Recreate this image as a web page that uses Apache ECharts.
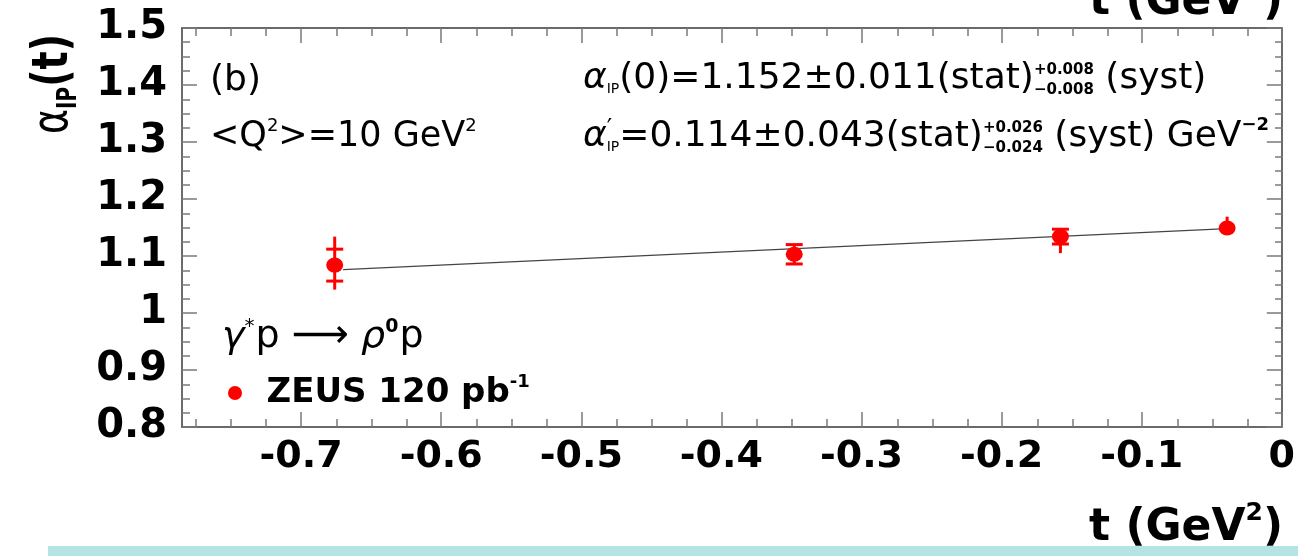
<!DOCTYPE html>
<html>
<head>
<meta charset="utf-8">
<script src="https://cdn.jsdelivr.net/npm/echarts@6/dist/echarts.min.js"></script>
<style>
  html, body { margin: 0; padding: 0; background: #ffffff; }
  #chart { width: 1298px; height: 556px; }
</style>
</head>
<body>
<div id="chart"></div>
<script>
// Pomeron trajectory alpha_IP(t) from exclusive rho0 electroproduction
const tValues      = [-0.676, -0.348, -0.158, -0.039];
const alphaValues  = [1.084, 1.103, 1.134, 1.149];
const statErrUp    = [0.028, 0.017, 0.013, 0.000];
const statErrDown  = [0.028, 0.017, 0.013, 0.000];
const totalErrUp   = [0.050, 0.017, 0.013, 0.020];
const totalErrDown = [0.043, 0.017, 0.029, 0.012];

// linear trajectory fit, end points
const fitT     = [-0.670, -0.039];
const fitAlpha = [1.076, 1.148];

const xTickValues = [-0.7, -0.6, -0.5, -0.4, -0.3, -0.2, -0.1, 0];
const yTickValues = [0.8, 0.9, 1, 1.1, 1.2, 1.3, 1.4, 1.5];
const X_MIN = -0.785, X_MAX = 0;
const Y_MIN = 0.8, Y_MAX = 1.5;

function minorTicks(lo, hi, step, majors) {
  const out = [];
  for (let k = Math.ceil(lo / step - 1e-9); k * step <= hi + 1e-9; k++) {
    const v = +(k * step).toFixed(4);
    if (!majors.some(m => Math.abs(m - v) < 1e-6)) out.push(v);
  }
  return out;
}
const xMinor = minorTicks(X_MIN, X_MAX, 0.025, xTickValues);
const yMinor = minorTicks(Y_MIN, Y_MAX, 0.025, yTickValues);

// ---- text runs with sub/superscripts ----
const meas = document.createElement('canvas').getContext('2d');
function fontStr(p) {
  return (p.i ? 'italic ' : '') + (p.w || 'normal') + ' ' + p.s + 'px ' + (p.f || '"DejaVu Sans"');
}
function baseOff(font, s) {
  meas.font = font;
  meas.textBaseline = 'middle';
  const m = meas.measureText('Hx');
  const a = m.alphabeticBaseline;
  if (typeof a !== 'number' || !isFinite(a) || Math.abs(a) > s || a === 0) return 0.33 * s;
  return Math.abs(a);
}
function run(x0, base, parts, opts) {
  opts = opts || {};
  const els = [];
  let x = x0, pending = 0;
  parts.forEach(p => {
    const font = fontStr(p);
    meas.font = font;
    const w = meas.measureText(p.t).width;
    els.push({
      type: 'text', z: 20,
      x: x + (p.dx || 0),
      y: base + (p.dy || 0) - baseOff(font, p.s),
      style: { text: p.t, font: font, fill: opts.fill || '#000', textAlign: 'left', textVerticalAlign: 'middle' }
    });
    if (p.stack) { pending = Math.max(pending, w); }
    else { x += Math.max(w, pending) + (p.gap || 0); pending = 0; }
  });
  return { els, width: x - x0 };
}
function widthOf(parts) { return run(0, 0, parts).width; }

const MAIN = 36, SMALL = 15;
const graphics = [];

graphics.push(...run(210, 90, [{ t: '(b)', s: MAIN }]).els);
graphics.push(...run(210, 146, [
  { t: '<Q', s: 35 }, { t: '2', s: 18, dy: -15 },
  { t: '>=10 GeV', s: 35 }, { t: '2', s: 18, dy: -15 }
]).els);

graphics.push(...run(583, 88, [
  { t: 'α', s: MAIN, i: 1 }, { t: 'IP', s: 14, dy: 5 },
  { t: '(0)=1.152±0.011(stat)', s: MAIN },
  { t: '+0.008', s: SMALL, w: 'bold', dy: -14, stack: 1 },
  { t: '−0.008', s: SMALL, w: 'bold', dy: 6 },
  { t: ' (syst)', s: MAIN }
]).els);

graphics.push(...run(583, 146, [
  { t: 'α', s: MAIN, i: 1 }, { t: '′', s: 24, dy: -10, stack: 1 }, { t: 'IP', s: 14, dy: 5 },
  { t: '=0.114±0.043(stat)', s: MAIN },
  { t: '+0.026', s: SMALL, w: 'bold', dy: -14, stack: 1 },
  { t: '−0.024', s: SMALL, w: 'bold', dy: 6 },
  { t: ' (syst) GeV', s: MAIN },
  { t: '−2', s: 18, w: 'bold', dy: -16 }
]).els);

graphics.push(...run(222, 347, [
  { t: 'γ', s: 38, i: 1 }, { t: '*', s: 20, dy: -15, gap: 1 }, { t: 'p ', s: 38 },
  { t: '⟶', s: 40 }, { t: ' ρ', s: 38, i: 1 }, { t: '0', s: 19, w: 'bold', dy: -15, gap: 1 },
  { t: 'p', s: 38 }
]).els);

// axis title t (GeV^2), plus the clipped copy belonging to the panel above
const titleParts = [
  { t: 't (GeV', s: 44, w: 'bold' }, { t: '2', s: 25, w: 'bold', dy: -20 }, { t: ')', s: 44, w: 'bold' }
];
const titleW = widthOf(titleParts);
graphics.push(...run(1283 - titleW, 540, titleParts).els);
graphics.push(...run(1283 - titleW, 14, titleParts).els);

// y-axis title alpha_IP(t), rotated and widened
const yTitle = run(0, 0, [
  { t: 'α', s: 38 }, { t: 'IP', s: 20, w: 'bold', dy: 7 }, { t: '(t)', s: 38, w: 'bold' }
]);
graphics.push({ type: 'group', x: 67, y: 134, rotation: Math.PI / 2, scaleY: 1.3, children: yTitle.els });

// pale strip along the bottom edge
graphics.push({
  type: 'rect', z: 30, shape: { x: 48, y: 546, width: 1250, height: 10 },
  style: { fill: 'rgba(88,196,194,0.45)' }
});

const errData = tValues.map((t, i) => [t, alphaValues[i], statErrUp[i], statErrDown[i], totalErrUp[i], totalErrDown[i]]);
const ellipse = 'path://M50,0A50,50,0,1,1,50,100A50,50,0,1,1,50,0Z';

const axisLine = { color: '#3a3a3a', width: 1.5 };
const tickLine = { color: '#7a7a7a', width: 1.5 };
function labelFont(size) {
  return { color: '#000', fontFamily: 'DejaVu Sans', fontWeight: 'bold', fontSize: size };
}

function xAx(grid, pos, ticks, len, labels) {
  return {
    type: 'value', gridIndex: grid, position: pos, min: X_MIN, max: X_MAX,
    axisLine: { show: grid === 0, onZero: false, lineStyle: axisLine },
    axisTick: { show: true, inside: true, length: len, customValues: ticks, lineStyle: tickLine },
    axisLabel: labels ? Object.assign({ show: true, customValues: ticks, margin: 11, formatter: v => String(v) }, labelFont(38)) : { show: false },
    splitLine: { show: false }
  };
}
function yAx(grid, pos, ticks, len, labels) {
  return {
    type: 'value', gridIndex: grid, position: pos, min: Y_MIN, max: Y_MAX,
    axisLine: { show: grid === 0, onZero: false, lineStyle: axisLine },
    axisTick: { show: true, inside: true, length: len, customValues: ticks, lineStyle: tickLine },
    axisLabel: labels ? Object.assign({ show: true, customValues: ticks, margin: 15, formatter: v => String(v) }, labelFont(40)) : { show: false },
    splitLine: { show: false }
  };
}

const chart = echarts.init(document.getElementById('chart'), null, { renderer: 'canvas' });
chart.setOption({
  animation: false,
  backgroundColor: '#ffffff',
  grid: [
    { left: 182, right: 15, top: 28, bottom: 129 },
    { left: 182, right: 15, top: 28, bottom: 129 }
  ],
  xAxis: [
    xAx(0, 'bottom', xTickValues, 15, true),
    xAx(0, 'top', xTickValues, 15, false),
    xAx(1, 'bottom', xMinor, 8, false),
    xAx(1, 'top', xMinor, 8, false)
  ],
  yAxis: [
    yAx(0, 'left', yTickValues, 15, true),
    yAx(0, 'right', yTickValues, 15, false),
    yAx(1, 'left', yMinor, 8, false),
    yAx(1, 'right', yMinor, 8, false)
  ],
  legend: {
    show: true, left: 228, top: 373, padding: 0, orient: 'vertical',
    itemWidth: 17, itemHeight: 14,
    data: [{ name: 'ZEUS 120 pb-1', icon: ellipse }],
    itemStyle: { opacity: 1 },
    formatter: () => '{m|ZEUS 120 pb}{s|-1}',
    textStyle: {
      rich: {
        m: { fontFamily: 'DejaVu Sans', fontWeight: 'bold', fontSize: 34, color: '#000', lineHeight: 40, padding: [0, 0, 0, 18] },
        s: { fontFamily: 'DejaVu Sans', fontWeight: 'bold', fontSize: 18, color: '#000', verticalAlign: 'top', lineHeight: 40, padding: [0, 0, 14, 0] }
      }
    }
  },
  series: [
    {
      type: 'line', name: 'fit', xAxisIndex: 0, yAxisIndex: 0, z: 2, silent: true,
      data: fitT.map((t, i) => [t, fitAlpha[i]]),
      symbol: 'none', lineStyle: { color: '#444', width: 1.2 }
    },
    {
      type: 'custom', name: 'errors', xAxisIndex: 0, yAxisIndex: 0, z: 3, silent: true,
      data: errData,
      renderItem: function (params, api) {
        const t = api.value(0), a = api.value(1);
        const c = api.coord([t, a]);
        const top = api.coord([t, a + api.value(4)])[1];
        const bot = api.coord([t, a - api.value(5)])[1];
        const style = { stroke: '#ff0000', lineWidth: 3 };
        const children = [{ type: 'line', shape: { x1: c[0], y1: top, x2: c[0], y2: bot }, style }];
        const half = 8.5;
        if (api.value(2) > 0) {
          const y = api.coord([t, a + api.value(2)])[1];
          children.push({ type: 'line', shape: { x1: c[0] - half, y1: y, x2: c[0] + half, y2: y }, style });
        }
        if (api.value(3) > 0) {
          const y = api.coord([t, a - api.value(3)])[1];
          children.push({ type: 'line', shape: { x1: c[0] - half, y1: y, x2: c[0] + half, y2: y }, style });
        }
        return { type: 'group', children };
      }
    },
    {
      type: 'scatter', name: 'ZEUS 120 pb-1', xAxisIndex: 0, yAxisIndex: 0, z: 4,
      data: tValues.map((t, i) => [t, alphaValues[i]]),
      symbol: ellipse, symbolSize: [17, 15],
      itemStyle: { color: '#ff0000', opacity: 1 }
    }
  ],
  graphic: graphics
});
</script>
</body>
</html>
